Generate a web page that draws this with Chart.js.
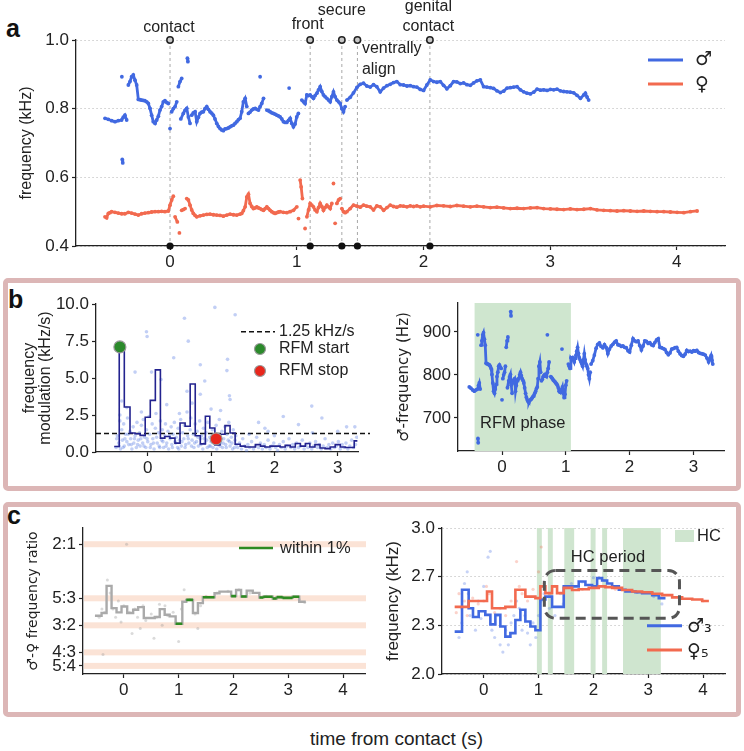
<!DOCTYPE html>
<html><head><meta charset="utf-8">
<script src="https://cdn.jsdelivr.net/npm/chart.js@4.4.1/dist/chart.umd.min.js"></script>
<style>
body{margin:0;background:#fff;width:744px;height:751px;position:relative;overflow:hidden;font-family:"Liberation Sans",Arial,"DejaVu Sans",sans-serif;color:#222}
.box{position:absolute;border:5px solid #dcb6b6;border-radius:5px;box-sizing:border-box}
canvas{position:absolute}
.lbl{position:absolute;font-weight:bold;font-size:25px;line-height:28px;color:#111}
#xt{position:absolute;left:310px;top:729px;font-size:19px;line-height:20px;color:#222;white-space:nowrap}
</style></head><body>
<div class="box" style="left:3px;top:278px;width:738px;height:213px"></div>
<div class="box" style="left:3px;top:502px;width:738px;height:215px"></div>
<div class="lbl" style="left:6px;top:14px">a</div>
<div class="lbl" style="left:8px;top:285px">b</div>
<div class="lbl" style="left:7px;top:501px">c</div>
<div id="xt">time from contact (s)</div>
<script>
// ---------------- DATA ----------------
// panel a / b-right: male fundamental (kHz), null = gap
const maleTrack = [
[-0.513,0.772],[-0.487,0.769],[-0.461,0.765],[-0.434,0.762],[-0.408,0.765],[-0.382,0.767],[-0.369,0.775],[-0.356,0.781],[-0.342,0.767],null,
[-0.380,0.893],null,[-0.377,0.652],[-0.373,0.642],null,
[-0.329,0.869],[-0.316,0.879],[-0.303,0.893],[-0.290,0.898],[-0.276,0.883],[-0.263,0.869],[-0.250,0.827],[-0.237,0.826],[-0.224,0.825],[-0.211,0.824],[-0.198,0.823],[-0.184,0.820],[-0.171,0.815],[-0.158,0.801],[-0.145,0.781],[-0.132,0.762],[-0.118,0.757],[-0.105,0.767],[-0.092,0.778],[-0.079,0.796],[-0.066,0.806],[-0.053,0.820],[-0.040,0.823],[-0.026,0.818],[-0.013,0.815],null,
[0.000,0.742],null,[0.013,0.791],[0.026,0.800],[0.040,0.806],[0.053,0.820],null,
[0.066,0.864],[0.079,0.879],[0.092,0.888],null,[0.137,0.947],[0.141,0.937],null,
[0.085,0.770],[0.105,0.786],[0.118,0.795],[0.132,0.801],[0.145,0.776],[0.158,0.757],null,
[0.171,0.781],[0.184,0.788],[0.198,0.791],[0.211,0.762],[0.224,0.775],[0.237,0.786],[0.250,0.790],[0.263,0.791],[0.276,0.800],[0.290,0.806],[0.303,0.798],[0.316,0.791],[0.329,0.787],[0.342,0.781],[0.355,0.770],[0.369,0.757],[0.382,0.748],[0.395,0.742],[0.408,0.738],[0.421,0.736],[0.434,0.741],[0.448,0.742],[0.461,0.744],[0.474,0.747],[0.487,0.750],[0.500,0.752],[0.513,0.757],[0.527,0.762],[0.540,0.768],[0.553,0.772],[0.566,0.791],[0.579,0.820],[0.593,0.830],[0.606,0.806],null,
[0.619,0.786],[0.632,0.790],[0.645,0.796],[0.658,0.799],[0.672,0.801],[0.685,0.798],[0.698,0.796],[0.711,0.806],[0.724,0.815],[0.738,0.830],null,
[0.711,0.893],null,
[0.764,0.796],[0.777,0.794],[0.790,0.791],[0.803,0.788],[0.816,0.786],[0.829,0.784],[0.843,0.781],[0.856,0.779],[0.869,0.776],[0.882,0.770],[0.895,0.762],[0.908,0.760],[0.922,0.760],[0.935,0.766],[0.948,0.772],[0.961,0.757],[0.974,0.747],[0.987,0.755],[1.000,0.776],[1.013,0.786],null,
[0.940,0.860],null,
[1.040,0.825],[1.053,0.820],[1.066,0.815],[1.080,0.840],[1.093,0.838],[1.106,0.840],[1.119,0.835],[1.132,0.830],[1.145,0.838],[1.159,0.845],[1.172,0.855],[1.185,0.864],[1.198,0.850],[1.211,0.840],[1.224,0.835],[1.238,0.830],[1.251,0.825],[1.264,0.820],[1.277,0.835],[1.290,0.849],[1.303,0.835],[1.317,0.825],[1.330,0.820],[1.343,0.815],[1.356,0.800],[1.369,0.791],[1.382,0.806],null,
[1.396,0.825],[1.422,0.833],[1.448,0.846],[1.475,0.862],[1.501,0.871],[1.527,0.874],[1.553,0.866],[1.580,0.863],[1.606,0.870],[1.632,0.864],[1.659,0.849],[1.685,0.860],[1.712,0.867],[1.738,0.871],[1.764,0.876],[1.790,0.879],[1.817,0.870],[1.843,0.869],[1.870,0.866],[1.896,0.867],[1.922,0.864],[1.948,0.863],[1.975,0.856],[2.001,0.853],[2.027,0.869],[2.054,0.884],[2.080,0.879],[2.106,0.877],[2.133,0.879],[2.159,0.868],[2.185,0.858],[2.212,0.867],[2.238,0.879],[2.264,0.878],[2.291,0.873],[2.317,0.875],[2.343,0.870],[2.370,0.868],[2.396,0.875],[2.422,0.881],[2.449,0.884],[2.475,0.864],[2.501,0.863],[2.528,0.861],[2.554,0.859],[2.580,0.852],[2.607,0.847],[2.633,0.851],[2.660,0.860],[2.686,0.861],[2.712,0.863],[2.739,0.864],[2.765,0.855],[2.791,0.849],[2.817,0.845],[2.844,0.843],[2.870,0.848],[2.897,0.857],[2.923,0.854],[2.949,0.855],[2.976,0.853],[3.002,0.856],[3.028,0.855],[3.054,0.857],[3.081,0.852],[3.107,0.850],[3.133,0.849],[3.159,0.848],[3.186,0.846],[3.212,0.839],[3.239,0.830],[3.265,0.840],[3.278,0.845],[3.291,0.834],[3.304,0.825]
];
// panel a: female fundamental (kHz)
const femaleTrack = [
[-0.513,0.485],[-0.500,0.482],[-0.487,0.495],[-0.474,0.497],[-0.461,0.500],[-0.434,0.498],[-0.408,0.496],[-0.382,0.494],[-0.356,0.494],[-0.329,0.498],[-0.303,0.496],[-0.276,0.493],[-0.250,0.490],[-0.224,0.494],[-0.198,0.496],[-0.171,0.497],[-0.145,0.499],[-0.118,0.500],[-0.092,0.500],[-0.066,0.501],[-0.040,0.500],[-0.013,0.502],[0.000,0.519],[0.013,0.534],[0.026,0.545],null,
[0.040,0.485],[0.058,0.470],null,[0.074,0.438],null,[0.092,0.504],[0.105,0.506],[0.119,0.509],null,
[0.132,0.538],[0.145,0.534],[0.158,0.519],[0.171,0.505],[0.184,0.495],[0.198,0.489],[0.211,0.485],[0.237,0.488],[0.263,0.490],[0.290,0.492],[0.316,0.493],[0.342,0.491],[0.369,0.490],[0.395,0.489],[0.421,0.487],[0.448,0.490],[0.474,0.493],[0.500,0.491],[0.527,0.490],[0.553,0.493],[0.566,0.495],[0.579,0.503],[0.593,0.514],[0.606,0.543],[0.619,0.551],[0.632,0.524],[0.645,0.515],[0.658,0.509],[0.672,0.511],[0.685,0.514],[0.698,0.511],[0.711,0.509],[0.724,0.506],[0.738,0.504],[0.751,0.509],[0.764,0.514],[0.777,0.509],[0.790,0.504],[0.803,0.500],[0.816,0.497],[0.829,0.495],[0.843,0.497],[0.856,0.499],[0.869,0.500],[0.895,0.498],[0.922,0.497],[0.948,0.500],[0.974,0.504],[1.001,0.514],null,
[1.014,0.480],null,[1.027,0.592],[1.035,0.572],[1.045,0.538],null,[1.066,0.451],null,
[1.080,0.485],[1.093,0.505],[1.106,0.524],[1.119,0.519],[1.132,0.514],[1.145,0.505],[1.159,0.500],[1.172,0.512],[1.185,0.524],[1.198,0.515],[1.211,0.504],[1.224,0.512],[1.238,0.519],[1.251,0.514],[1.264,0.509],[1.277,0.524],null,
[1.290,0.582],null,[1.303,0.466],null,[1.317,0.524],[1.330,0.534],[1.343,0.538],null,
[1.356,0.509],[1.369,0.500],[1.382,0.497],[1.396,0.500],[1.422,0.509],[1.448,0.519],[1.475,0.516],[1.501,0.513],[1.527,0.519],[1.553,0.516],[1.580,0.514],[1.606,0.505],[1.632,0.517],[1.659,0.514],[1.686,0.504],[1.712,0.512],[1.738,0.519],[1.764,0.515],[1.790,0.513],[1.817,0.517],[1.843,0.516],[1.870,0.514],[1.896,0.517],[1.922,0.515],[1.948,0.517],[1.975,0.514],[2.001,0.516],[2.054,0.514],[2.106,0.518],[2.159,0.517],[2.212,0.515],[2.264,0.518],[2.317,0.516],[2.370,0.514],[2.422,0.516],[2.475,0.514],[2.528,0.512],[2.580,0.513],[2.633,0.511],[2.686,0.509],[2.739,0.510],[2.791,0.509],[2.844,0.511],[2.897,0.512],[2.949,0.509],[3.002,0.508],[3.054,0.507],[3.107,0.506],[3.159,0.508],[3.212,0.506],[3.265,0.507],[3.318,0.509],[3.370,0.505],[3.423,0.504],[3.475,0.503],[3.528,0.502],[3.581,0.503],[3.633,0.502],[3.686,0.501],[3.739,0.502],[3.791,0.501],[3.844,0.500],[3.897,0.500],[3.949,0.499],[4.002,0.498],[4.055,0.497],[4.107,0.500],[4.160,0.502]
];
const eventT = [0, 1.106, 1.356, 1.479, 2.051];
const eventNames = [['contact'],['front'],['secure'],['ventrally','align'],['genital','contact']];
const aYTicks = [0.4,0.6,0.8,1.0], aYLabels = ['0.4','0.6','0.8','1.0'];
const tTicks4 = [0,1,2,3,4], tLabels4 = ['0','1','2','3','4'];
const tTicks3 = [0,1,2,3], tLabels3 = ['0','1','2','3'];

// panel b-left: frequency modulation (kHz/s)
const fmDots = [
[-0.50,0.3],[-0.48,1.1],[-0.46,0.6],[-0.44,2.1],[-0.43,0.2],[-0.41,1.5],[-0.40,0.8],[-0.38,1.9],[-0.37,0.4],[-0.35,1.2],[-0.33,0.7],[-0.32,2.3],[-0.30,0.5],[-0.28,1.4],[-0.27,0.9],[-0.25,0.2],[-0.23,1.7],[-0.22,0.6],[-0.20,1.1],[-0.18,0.3],[-0.17,2.0],[-0.15,0.8],[-0.13,1.3],[-0.12,0.4],[-0.10,1.8],[-0.08,0.6],[-0.07,2.2],[-0.05,1.0],[-0.03,0.3],[-0.02,1.5],[0.00,0.7],[0.02,2.4],[0.03,1.2],[0.05,0.5],[0.07,1.9],[0.08,0.9],[0.10,0.2],[0.12,1.6],[0.13,2.6],[0.15,0.6],[0.17,1.3],[0.18,0.4],[0.20,2.1],[0.22,0.8],[0.23,1.5],[0.25,0.3],[0.27,1.1],[0.28,1.9],[0.30,0.6],[0.32,1.4],[0.33,0.2],[0.35,0.9],[0.37,1.7],[0.38,0.5],[0.40,1.2],[0.42,2.0],[0.43,0.7],[0.45,1.0],[0.47,0.3],[0.48,1.6],[0.50,0.8],[0.52,2.2],[0.53,0.4],[0.55,1.3],[0.57,0.9],[0.58,1.8],[0.60,0.5],[0.62,2.7],[0.63,1.1],[0.65,0.6],[0.67,1.5],[0.68,2.3],[0.70,0.8],[0.72,1.2],[0.73,0.3],[0.75,1.9],[0.77,0.7],[0.78,1.4],[0.80,0.4],[0.82,2.1],[0.83,0.9],[0.85,1.1],[0.87,0.2],[0.88,1.6],[0.90,0.6],[0.92,1.3],[0.93,0.8],[0.95,2.0],[0.97,0.4],[0.98,1.0],[1.00,0.7],[1.02,1.5],[1.03,0.3],[1.05,1.2],[1.07,0.9],[1.08,1.8],[1.10,0.5],[1.12,1.1],[1.13,2.2],[1.15,0.6],[1.17,1.4],[1.18,0.3],[1.20,0.9],[1.22,1.7],[1.23,0.5],[1.25,1.2],[1.27,0.8],[1.28,2.0],[1.30,0.4],[1.32,1.0],[1.33,0.6],[1.35,1.5],[1.37,0.3],[1.38,0.8],[1.40,0.5],
[-0.49,0.9],[-0.45,0.4],[-0.39,0.3],[-0.36,0.9],[-0.31,1.2],[-0.26,0.5],[-0.21,0.9],[-0.16,0.5],[-0.11,0.9],[-0.06,0.4],[-0.01,0.9],[0.04,0.3],[0.09,0.6],[0.14,1.0],[0.19,0.3],[0.24,0.7],[0.29,0.4],[0.34,1.1],[0.39,0.3],[0.44,0.6],[0.49,0.2],[0.54,0.7],[0.59,0.3],[0.64,0.9],[0.69,0.4],[0.74,0.6],[0.79,1.0],[0.84,0.5],[0.89,0.9],[0.94,0.3],[0.99,0.4],[1.04,0.8],[1.09,0.2],[1.14,0.4],[1.19,0.6],[1.24,0.3],[1.29,0.7],[1.34,0.2],[1.39,1.1],
[1.42,0.3],[1.45,0.6],[1.48,0.2],[1.50,0.9],[1.53,0.4],[1.56,0.1],[1.58,0.5],[1.61,0.3],[1.64,0.7],[1.67,0.2],[1.70,0.4],[1.72,1.0],[1.75,0.3],[1.78,0.6],[1.81,0.2],[1.84,0.5],[1.87,0.3],[1.90,0.8],[1.93,0.2],[1.96,0.4],[1.99,0.6],[2.02,0.3],[2.05,0.1],[2.08,0.5],[2.11,0.3],[2.14,0.7],[2.17,0.2],[2.20,0.4],[2.23,0.9],[2.26,0.3],[2.29,0.5],[2.32,0.2],[2.35,0.6],[2.38,0.3],[2.41,0.4],[2.44,0.8],[2.47,0.2],[2.50,0.5],[2.53,0.3],[2.56,0.6],[2.59,0.2],[2.62,0.4],[2.65,0.7],[2.68,0.3],[2.71,0.5],[2.74,0.2],[2.77,0.4],[2.80,0.9],[2.83,0.3],[2.86,0.5],[2.89,0.2],[2.92,0.6],[2.95,0.3],[2.98,0.4],[3.01,0.7],[3.04,0.2],[3.07,0.5],[3.10,0.3],[3.13,0.6],[3.16,0.2],[3.19,0.4],[3.22,0.8],[3.25,0.3],[3.28,0.5],[3.30,1.0],
[-0.02,8.13],[-0.01,7.8],[0.58,9.04],[1.06,9.77],[1.38,9.27],[0.64,7.49],[0.41,6.37],[1.26,6.26],[0.83,5.9],[-0.2,5.4],[0.06,5.4],[1.25,5.5],[0.21,4.9],[0.9,4.8],[0.62,4.1],[0.83,3.9],[1.29,3.8],[1.3,3.55],[2.59,3.1],[2.14,2.4],[2.75,2.3],[3.14,1.7],[3.27,1.7],[1.85,1.6],[2.38,1.85],[1.75,2.0],[-0.44,2.5],[-0.33,3.0],[-0.41,3.45],[0.3,3.2],[0.7,3.3],[1.0,2.9],[0.5,2.6],[1.15,2.8],[-0.1,2.7],[1.6,1.2],[2.0,1.1],[2.6,1.3],[3.0,1.4],[1.9,1.4]
];
const fmStepT = [-0.53,-0.45,-0.37,-0.28,-0.20,-0.12,-0.04,0.04,0.12,0.20,0.27,0.35,0.43,0.51,0.59,0.67,0.75,0.83,0.91,0.98,1.06,1.14,1.22,1.30,1.38,1.46,1.54,1.62,1.70,1.78,1.85,1.93,2.01,2.09,2.17,2.25,2.33,2.41,2.49,2.56,2.64,2.72,2.80,2.88,2.96,3.04,3.12,3.20,3.26];
const fmStepV = [0.37,7.1,3.04,1.28,1.23,1.12,2.35,3.49,5.55,0.94,1.05,0.94,0.6,1.96,1.74,4.59,1.1,0.55,2.42,1.62,0.48,1.2,1.78,1.28,0.52,0.4,0.34,0.34,0.5,0.4,0.34,0.4,0.4,0.34,0.45,0.34,0.57,0.4,0.57,0.34,0.5,0.27,0.23,0.34,0.5,0.34,0.3,0.3,0.75];
const fmStepEnd = 3.31;
const fmThreshold = 1.25;
const rfmStart = [-0.44, 7.1], rfmStop = [1.08, 0.89];
const bYTicks = [0,2.5,5,7.5,10], bYLabels = ['0.0','2.5','5.0','7.5','10.0'];
const rfmPhase = [-0.43, 1.08];
const brYTicks = [700,800,900], brYLabels = ['700','800','900'];

// panel c-left: male/female ratio
const ratioStepT = [-0.527,-0.406,-0.315,-0.224,-0.133,-0.042,0.061,0.170,0.261,0.364,0.442,0.564,0.655,0.745,0.836,0.945,1.067,1.139,1.261,1.352,1.442,1.655,1.745,1.958,2.048,2.139,2.242,2.352,2.473,2.545,2.715,2.788,2.897,3.079,3.200];
const ratioStepV = [1.559,1.576,1.743,1.606,1.580,1.616,1.576,1.596,1.612,1.545,1.545,1.551,1.600,1.565,1.555,1.510,1.645,1.657,1.576,1.637,1.673,1.698,1.708,1.680,1.718,1.678,1.714,1.700,1.672,1.676,1.665,1.674,1.669,1.676,1.645];
const ratioStepEnd = 3.32;
const ratioDots = [[-0.45,1.55],[-0.4,1.6],[-0.35,1.58],[-0.3,1.78],[-0.25,1.7],[-0.2,1.6],[-0.15,1.55],[-0.1,1.65],[-0.05,1.52],[0.0,1.62],[0.05,2.0],[0.1,1.58],[0.15,1.45],[0.2,1.6],[0.25,1.55],[0.3,1.48],[0.35,1.62],[0.4,1.53],[0.5,1.57],[0.55,1.42],[0.6,1.55],[0.65,1.63],[0.7,1.5],[0.75,1.62],[0.8,1.56],[0.9,1.58],[0.95,1.52],[1.0,1.4],[1.05,1.6],[1.1,1.72],[1.2,1.66],[1.3,1.57],[1.35,1.48],[1.4,1.62],[1.5,1.68],[1.7,1.7],[1.9,1.71],[2.1,1.72],[2.3,1.7],[2.6,1.68],[2.9,1.67],[3.2,1.66],[3.3,1.64],[-0.38,1.32]];
const ratioTicks = [2, 5/3, 3/2, 4/3, 5/4], ratioLabels = ['2:1','5:3','3:2','4:3','5:4'];
const ratioTolerance = 0.01;

// panel c-right: harmonics (kHz)
const m3StepT = [-0.529,-0.395,-0.274,-0.195,-0.091,0.030,0.122,0.213,0.304,0.395,0.487,0.578,0.669,0.760,0.852,0.943,1.034,1.125,1.247,1.338,1.460,1.642,1.733,1.855,1.977,2.068,2.159,2.251,2.342,2.464,2.585,2.768,2.889,3.072,3.193];
const m3StepV = [2.29,2.577,2.45,2.39,2.43,2.405,2.34,2.405,2.325,2.256,2.28,2.37,2.44,2.36,2.325,2.30,2.51,2.53,2.46,2.46,2.60,2.60,2.634,2.61,2.60,2.657,2.64,2.62,2.60,2.577,2.565,2.56,2.554,2.54,2.52];
const m3StepEnd = 3.315;
const f5StepT = [-0.529,-0.274,0.061,0.152,0.395,0.578,0.760,0.943,1.034,1.125,1.247,1.338,1.460,1.612,1.733,1.916,2.099,2.220,2.342,2.524,2.707,2.889,3.072,3.254,3.437,3.619,3.802,3.984];
const f5StepV = [2.46,2.50,2.565,2.45,2.46,2.577,2.53,2.52,2.60,2.554,2.60,2.554,2.59,2.575,2.58,2.59,2.60,2.595,2.59,2.575,2.565,2.56,2.55,2.54,2.525,2.515,2.51,2.50];
const f5StepEnd = 4.106;
const m3Dots = [[-0.45,2.25],[-0.4,2.35],[-0.35,2.62],[-0.3,2.7],[-0.28,2.55],[-0.25,2.4],[-0.2,2.45],[-0.15,2.3],[-0.1,2.5],[-0.05,2.38],[0.0,2.6],[0.08,2.8],[0.12,2.84],[0.15,2.3],[0.2,2.25],[0.25,2.4],[0.3,2.2],[0.35,2.15],[0.4,2.3],[0.45,2.2],[0.5,2.35],[0.55,2.4],[0.6,2.5],[0.65,2.45],[0.7,2.3],[0.75,2.4],[0.8,2.28],[0.85,2.2],[0.9,2.35],[0.95,2.25],[1.0,2.4],[1.05,2.5],[1.1,2.55],[1.2,2.45],[1.3,2.4],[1.4,2.55],[1.45,2.48],[1.6,2.62],[1.8,2.63],[2.0,2.66],[2.2,2.64],[2.5,2.58],[2.8,2.56],[3.1,2.53],[3.25,2.48]];
const f5Dots = [[-0.5,2.42],[-0.45,2.55],[-0.4,2.45],[-0.35,2.5],[-0.3,2.4],[-0.2,2.52],[-0.1,2.48],[0.0,2.5],[0.05,2.6],[0.1,2.55],[0.2,2.42],[0.3,2.45],[0.4,2.4],[0.5,2.5],[0.6,2.77],[0.65,2.6],[0.7,2.55],[0.8,2.5],[0.9,2.58],[1.0,2.7],[1.05,2.87],[1.1,2.62],[1.2,2.55],[1.3,2.6],[1.5,2.59],[1.8,2.58],[2.1,2.6],[2.4,2.58],[2.8,2.56],[3.2,2.54],[3.6,2.52],[4.0,2.5]];
const hcBands = [[0.97,1.06],[1.17,1.26],[1.47,1.65],[1.95,2.04],[2.16,2.25],[2.54,3.23]];
const hcPeriod = [1.106, 3.57, 2.382, 2.709];
const crYTicks = [2, 7/3, 8/3, 3], crYLabels = ['2.0','2.3','2.7','3.0'];

// ---------------- RENDER ----------------
const FF = '"Liberation Sans", Arial, "DejaVu Sans", sans-serif';
const SYM = '"DejaVu Sans", sans-serif';
const BLUE = '#4169e1', RED = '#f26a4f', INK = '#222';
const pts = arr => arr.map((p,i) => p ? {x:p[0], y:p[1]} : {x:(arr[i-1]||[0])[0], y:null});
const steps = (T,V,end) => T.map((t,i)=>({x:t,y:V[i]})).concat([{x:end,y:V[V.length-1]}]);

function xScale(min,max,ticks,labels,fs){
  return {type:'linear',min,max,
    afterBuildTicks:s=>{s.ticks=ticks.map(v=>({value:v}));},
    ticks:{autoSkip:false,maxRotation:0,padding:2,color:INK,font:{family:FF,size:fs},callback:(v,i)=>labels[i]},
    grid:{drawOnChartArea:false,drawTicks:true,tickLength:4,tickColor:INK,tickWidth:1.2},
    border:{display:true,color:INK,width:1.3}};
}
function yScale(min,max,ticks,labels,fs,title,tfs,tpad,gridOn,tlh,tfam){
  return {type:'linear',min,max,
    afterBuildTicks:s=>{s.ticks=ticks.map(v=>({value:v}));},
    ticks:{autoSkip:false,padding:3,color:INK,font:{family:FF,size:fs},callback:(v,i)=>labels[i]},
    grid:{drawOnChartArea:!!gridOn,color:'#cccccc',lineWidth:1,drawTicks:true,tickLength:4,tickColor:INK,tickWidth:1.2,tickBorderDash:[]},
    border:{display:true,color:INK,width:1.3,dash:[1.5,2.5]},
    title:{display:true,text:title,color:INK,font:{family:tfam||FF,size:tfs,lineHeight:tlh||1.2},padding:{top:tpad,bottom:0}}};
}
function mk(box, area, cfg){
  const cv=document.createElement('canvas');
  cv.width=box.w; cv.height=box.h; cv.style.left=box.l+'px'; cv.style.top=box.t+'px';
  document.body.appendChild(cv);
  const yW=area.l-box.l, xH=box.t+box.h-area.b, pT=area.t-box.t, pR=box.l+box.w-area.r;
  const o=cfg.options;
  o.layout={padding:{left:0,top:pT,right:pR,bottom:0}};
  o.scales.x.afterFit=s=>{s.height=xH;};
  o.scales.y.afterFit=s=>{s.width=yW;};
  o.responsive=false; o.animation=false; o.devicePixelRatio=1;
  o.plugins={legend:{display:false},tooltip:{enabled:false}};
  return new Chart(cv,cfg);
}
// note: Chart.js paints dataset 0 last (on top), so datasets are listed top-first
function lineDS(data,color,extra){
  return Object.assign({data,showLine:true,borderColor:color,backgroundColor:color,pointBackgroundColor:color,
    borderWidth:2.8,pointRadius:1.9,pointBorderWidth:0,pointHoverRadius:0,spanGaps:false,tension:0},extra||{});
}
function dotDS(data,color,r){
  return {data,showLine:false,pointRadius:r,pointBorderWidth:0,pointBackgroundColor:color,backgroundColor:color,pointHoverRadius:0};
}
function txt(ctx,s,x,y,size,align,fam){ctx.font=size+'px '+(fam||FF);ctx.fillStyle=INK;ctx.textAlign=align||'left';ctx.textBaseline='middle';ctx.fillText(s,x,y);}
function hline(ctx,x1,x2,y,color,w,dash){ctx.save();ctx.strokeStyle=color;ctx.lineWidth=w;ctx.setLineDash(dash||[]);ctx.beginPath();ctx.moveTo(x1,y);ctx.lineTo(x2,y);ctx.stroke();ctx.restore();}
const off=(b)=>({X:v=>v-b.l,Y:v=>v-b.t});

// ---- Panel a
const boxA={l:0,t:0,w:744,h:275};
const evLayout=[{dx:-1,align:'center',y:[27.5]},{dx:-2.5,align:'center',y:[25]},{dx:0,align:'center',y:[11]},{dx:4.5,align:'left',y:[49,70]},{dx:-1.5,align:'center',y:[7,27]}];
mk(boxA,{l:76,r:725,t:40,b:246},{type:'scatter',
  data:{datasets:[lineDS(pts(maleTrack),BLUE),lineDS(pts(femaleTrack),RED)]},
  options:{scales:{x:xScale(-0.742,4.38,tTicks4,tLabels4,17),y:yScale(0.4,1.0,aYTicks,aYLabels,17,'frequency (kHz)',16,17.4,true)}},
  plugins:[{id:'ev',
    beforeDatasetsDraw(c){const {ctx,scales:{x,y}}=c;ctx.save();ctx.strokeStyle='#a8a8a8';ctx.lineWidth=1;ctx.setLineDash([3,3]);
      eventT.forEach(t=>{const px=x.getPixelForValue(t);ctx.beginPath();ctx.moveTo(px,y.getPixelForValue(1.0));ctx.lineTo(px,y.getPixelForValue(0.4));ctx.stroke();});ctx.restore();},
    afterDraw(c){const {ctx,scales:{x,y}}=c;ctx.save();
      eventT.forEach((t,i)=>{const px=x.getPixelForValue(t);
        ctx.beginPath();ctx.arc(px,y.getPixelForValue(1.0),3.2,0,Math.PI*2);ctx.fillStyle='#c8c8c8';ctx.fill();ctx.lineWidth=1.5;ctx.strokeStyle='#222';ctx.stroke();
        ctx.beginPath();ctx.arc(px,y.getPixelForValue(0.4),3.6,0,Math.PI*2);ctx.fillStyle='#111';ctx.fill();
        const L=evLayout[i];eventNames[i].forEach((s,k)=>txt(ctx,s,px+L.dx,L.y[k],16,L.align));});
      hline(ctx,648,683,60,BLUE,3);hline(ctx,648,683,84,RED,3);
      txt(ctx,'\u2642',695,60,19,'left',SYM);txt(ctx,'\u2640',695,85,19,'left',SYM);
      ctx.restore();}}]
});

// ---- Panel b-left
const boxBL={l:8,t:283,w:364,h:200};
mk(boxBL,{l:96,r:358,t:304,b:452},{type:'scatter',
  data:{datasets:[
    {data:[{x:rfmStart[0],y:rfmStart[1]},{x:rfmStop[0],y:rfmStop[1]}],showLine:false,pointRadius:6,pointBorderWidth:1.2,pointBorderColor:'#999',pointBackgroundColor:['#2b8a2b','#e8261c'],pointHoverRadius:0},
    lineDS(steps(fmStepT,fmStepV,fmStepEnd),'#23238f',{stepped:true,borderWidth:1.6,pointRadius:0}),
    dotDS(fmDots.map(p=>({x:p[0],y:p[1]})),'rgba(65,105,225,0.32)',1.8)
  ]},
  options:{scales:{x:xScale(-0.817,3.32,tTicks3,tLabels3,17),y:yScale(0,10,bYTicks,bYLabels,17,['frequency','modulation (kHz/s)'],16,14,false,1.0)}},
  plugins:[{id:'bl',
    beforeDatasetsDraw(c){const {ctx,chartArea:a,scales:{y}}=c;hline(ctx,a.left,a.right+12,y.getPixelForValue(fmThreshold),'#111',1.5,[5,3]);},
    afterDatasetsDraw(c){const {ctx}=c;const o=off(boxBL);
      hline(ctx,o.X(241),o.X(275),o.Y(331.7),'#111',1.5,[5,3]);
      txt(ctx,'1.25 kHz/s',o.X(279),o.Y(331.7),16);
      ctx.save();ctx.lineWidth=1.2;ctx.strokeStyle='#999';
      ctx.beginPath();ctx.arc(o.X(260),o.Y(349),5.5,0,Math.PI*2);ctx.fillStyle='#2b8a2b';ctx.fill();ctx.stroke();
      ctx.beginPath();ctx.arc(o.X(260),o.Y(371),5.5,0,Math.PI*2);ctx.fillStyle='#e8261c';ctx.fill();ctx.stroke();ctx.restore();
      txt(ctx,'RFM start',o.X(279),o.Y(349),16);txt(ctx,'RFM stop',o.X(279),o.Y(371),16);}}]
});

// ---- Panel b-right
const boxBR={l:380,t:283,w:361,h:200};
mk(boxBR,{l:458,r:724,t:303,b:451},{type:'scatter',
  data:{datasets:[lineDS(pts(maleTrack).map(p=>({x:p.x,y:p.y===null?null:p.y*1000})),BLUE,{borderWidth:2.8,pointRadius:1.9})]},
  options:{scales:{x:xScale(-0.69,3.48,tTicks3,tLabels3,17),y:yScale(623,967,brYTicks,brYLabels,17,'\u2642-frequency (Hz)',15,15.5,false,1.2,SYM)}},
  plugins:[{id:'br',beforeDatasetsDraw(c){const {ctx,chartArea:a,scales:{x}}=c;const x1=x.getPixelForValue(rfmPhase[0]),x2=x.getPixelForValue(rfmPhase[1]);
      ctx.save();ctx.fillStyle='#cfe6cf';ctx.fillRect(x1,a.top,x2-x1,a.bottom-a.top);ctx.restore();},
    afterDatasetsDraw(c){const {ctx,scales:{x,y}}=c;txt(ctx,'RFM phase',x.getPixelForValue((rfmPhase[0]+rfmPhase[1])/2),y.getPixelForValue(688),16.5,'center');}}]
});

// ---- Panel c-left
const boxCL={l:8,t:507,w:364,h:200};
const within=v=>ratioTicks.some(r=>Math.abs(v-r)/r<=ratioTolerance);
const greenSeg=[];ratioStepT.forEach((t,i)=>{const e=i<ratioStepT.length-1?ratioStepT[i+1]:ratioStepEnd;if(within(ratioStepV[i])){greenSeg.push({x:t,y:ratioStepV[i]},{x:e,y:ratioStepV[i]},{x:e,y:null});}});
mk(boxCL,{l:83,r:365,t:528,b:674},{type:'scatter',
  data:{datasets:[
    lineDS(greenSeg,'#2e8b22',{borderWidth:2.6,pointRadius:0}),
    lineDS(steps(ratioStepT,ratioStepV,ratioStepEnd),'#aaaaaa',{stepped:true,borderWidth:2.4,pointRadius:0}),
    dotDS(ratioDots.map(p=>({x:p[0],y:p[1]})),'rgba(150,150,150,0.35)',1.5)
  ]},
  options:{scales:{x:xScale(-0.745,4.4,tTicks4,tLabels4,17),y:yScale(1.2,2.1,ratioTicks,ratioLabels,17,'\u2642-\u2640 frequency ratio',14,16.6,false,1.2,SYM)}},
  plugins:[{id:'cl',beforeDatasetsDraw(c){const {ctx,chartArea:a,scales:{y}}=c;ctx.save();ctx.fillStyle='#fbe3d6';
      ratioTicks.forEach(r=>{ctx.fillRect(a.left+1,y.getPixelForValue(r)-3,a.right-a.left,6);});ctx.restore();},
    afterDatasetsDraw(c){const {ctx}=c;const o=off(boxCL);hline(ctx,o.X(239),o.X(273),o.Y(548),'#2e8b22',2.6);txt(ctx,'within 1%',o.X(280),o.Y(548),16.5);}}]
});

// ---- Panel c-right
const boxCR={l:375,t:507,w:366,h:200};
mk(boxCR,{l:442,r:725,t:528,b:674},{type:'scatter',
  data:{datasets:[
    lineDS(steps(f5StepT,f5StepV,f5StepEnd),RED,{stepped:true,borderWidth:2.6,pointRadius:0}),
    lineDS(steps(m3StepT,m3StepV,m3StepEnd),BLUE,{stepped:true,borderWidth:2.6,pointRadius:0}),
    dotDS(f5Dots.map(p=>({x:p[0],y:p[1]})),'rgba(242,106,79,0.3)',1.6),
    dotDS(m3Dots.map(p=>({x:p[0],y:p[1]})),'rgba(65,105,225,0.3)',1.6)
  ]},
  options:{scales:{x:xScale(-0.76,4.4,tTicks4,tLabels4,17),y:yScale(2.0,3.0,crYTicks,crYLabels,17,'frequency (kHz)',17,8,true)}},
  plugins:[{id:'cr',beforeDatasetsDraw(c){const {ctx,chartArea:a,scales:{x}}=c;ctx.save();ctx.fillStyle='#cfe5cf';
      hcBands.forEach(b=>{const x1=x.getPixelForValue(b[0]),x2=x.getPixelForValue(b[1]);ctx.fillRect(x1,a.top,x2-x1,a.bottom-a.top);});ctx.restore();},
    afterDatasetsDraw(c){const {ctx,scales:{x,y}}=c;const o=off(boxCR);
      const x1=x.getPixelForValue(hcPeriod[0]),x2=x.getPixelForValue(hcPeriod[1]),y1=y.getPixelForValue(hcPeriod[3]),y2=y.getPixelForValue(hcPeriod[2]);
      ctx.save();ctx.strokeStyle='#555';ctx.lineWidth=3;ctx.setLineDash([10,6]);ctx.beginPath();ctx.roundRect(x1,y1,x2-x1,y2-y1,11);ctx.stroke();ctx.restore();
      txt(ctx,'HC period',o.X(608),o.Y(557.5),16.5,'center');
      ctx.save();ctx.fillStyle='#cfe5cf';ctx.fillRect(o.X(675),o.Y(530),19,12);ctx.restore();
      txt(ctx,'HC',o.X(697),o.Y(536),16.5);
      hline(ctx,o.X(647),o.X(682),o.Y(625.7),BLUE,3);hline(ctx,o.X(647),o.X(682),o.Y(650),RED,3);
      txt(ctx,'\u2642\u2083',o.X(687),o.Y(627),19,'left',SYM);txt(ctx,'\u2640\u2085',o.X(687),o.Y(652),19,'left',SYM);}}]
});
</script>
</body></html>
